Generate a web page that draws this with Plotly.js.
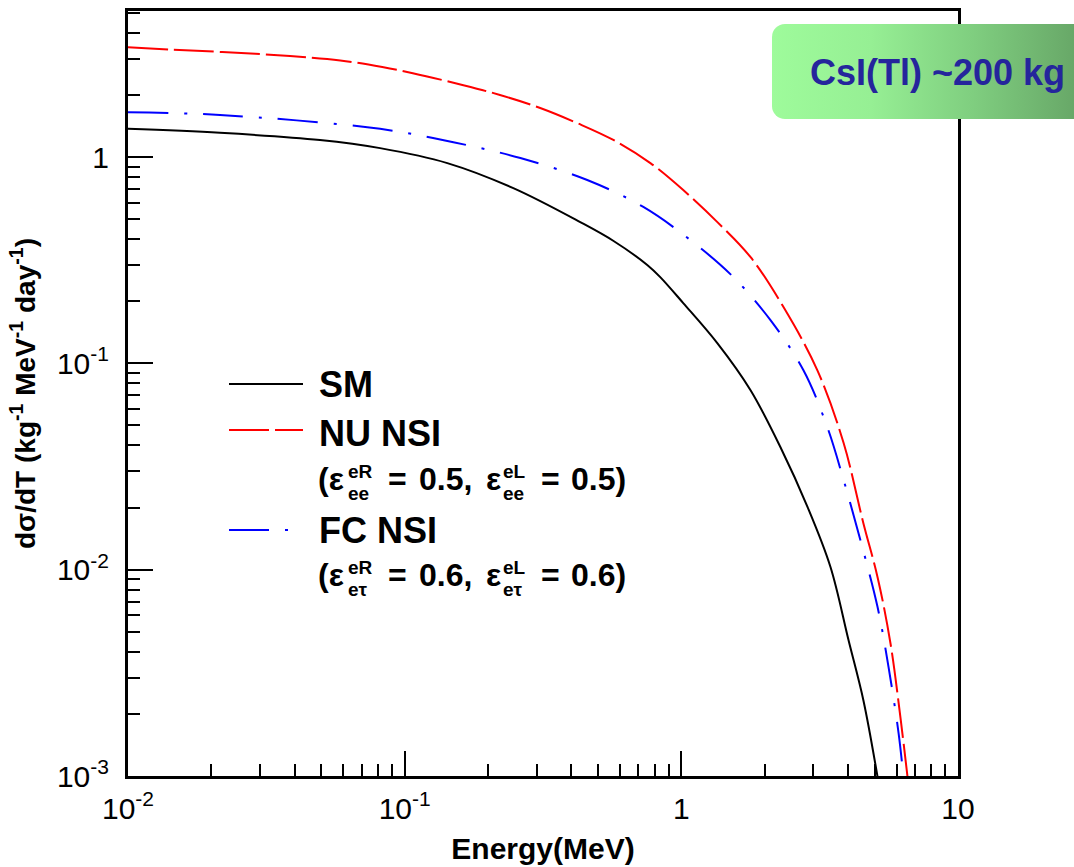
<!DOCTYPE html>
<html>
<head>
<meta charset="utf-8">
<script src="https://cdn.plot.ly/plotly-3.0.1.min.js"></script>
<style>
  html, body { margin: 0; padding: 0; background: #ffffff; }
  #chart { width: 1074px; height: 867px; }
</style>
</head>
<body>
<div id="chart"></div>
<script>
// Differential event rate dσ/dT versus recoil energy T for a CsI(Tl) target.

// Standard Model
const smEnergy = [0.01, 0.0215, 0.0494, 0.0815, 0.1426, 0.247, 0.431, 0.569, 0.753, 0.839, 1.016, 1.349, 1.777, 2.28, 2.86, 3.46, 4.02, 4.55, 5.12];
const smRate   = [1.37, 1.31, 1.21, 1.105, 0.935, 0.707, 0.484, 0.392, 0.300, 0.262, 0.196, 0.1254, 0.0743, 0.0393, 0.0201, 0.0103, 0.00456, 0.00233, 0.00099];

// Non-universal NSI (εeR_ee = 0.5, εeL_ee = 0.5)
const nuEnergy = [0.01, 0.0142, 0.0219, 0.0385, 0.0585, 0.083, 0.107, 0.163, 0.221, 0.309, 0.421, 0.568, 0.773, 1.016, 1.35, 1.78, 2.34, 3.10, 3.86, 4.55, 5.12, 5.70, 6.20, 6.57];
const nuRate   = [3.41, 3.32, 3.23, 3.09, 2.94, 2.73, 2.55, 2.23, 2.0, 1.73, 1.46, 1.21, 0.935, 0.692, 0.484, 0.327, 0.1875, 0.0928, 0.0411, 0.0168, 0.0092, 0.0044, 0.0019, 0.00099];

// Flavour-changing NSI (εeR_eτ = 0.6, εeL_eτ = 0.6)
const fcEnergy = [0.01, 0.0215, 0.0815, 0.150, 0.262, 0.457, 0.729, 1.078, 1.542, 2.10, 2.76, 3.37, 3.86, 4.44, 5.12, 5.61, 6.10, 6.35];
const fcRate   = [1.65, 1.60, 1.37, 1.18, 0.989, 0.774, 0.573, 0.396, 0.262, 0.162, 0.0928, 0.0491, 0.0272, 0.0139, 0.00659, 0.00337, 0.00161, 0.00099];

const seriesNames = ['SM', 'NU NSI', 'FC NSI'];

const xTickVals = [0.01, 0.1, 1, 10];
const xTickText = ['10<sup>-2</sup>', '10<sup>-1</sup>', '1', '10'];
const yTickVals = [0.001, 0.01, 0.1, 1];
const yTickText = ['10<sup>-3</sup>', '10<sup>-2</sup>', '10<sup>-1</sup>', '1'];

// ---- page geometry (pixels) ----
const W = 1074, H = 867;
const M = { l: 128, r: 116, t: 11, b: 91 };
const PW = W - M.l - M.r, PH = H - M.t - M.b;
const px = v => (v - M.l) / PW;          // pixel x -> paper x
const py = v => (H - M.b - v) / PH;      // pixel y -> paper y

const FONT = 'Liberation Sans, Arial, Helvetica, sans-serif';
const NU_DASH = '40px,6px';
const FC_DASH = '40px,16px,3px,16px';

// minor log ticks (2..9 in each decade)
function minorTicks(lo, hi) {
  const out = [];
  for (let e = lo; e < hi; e++) for (let m = 2; m <= 9; m++) out.push(m * Math.pow(10, e));
  return out;
}

const traces = [
  { x: smEnergy, y: smRate, name: seriesNames[0], mode: 'lines',
    line: { color: '#000000', width: 2, shape: 'spline', smoothing: 1 } },
  { x: nuEnergy, y: nuRate, name: seriesNames[1], mode: 'lines',
    line: { color: '#ff0000', width: 2, dash: NU_DASH, shape: 'spline', smoothing: 1 } },
  { x: fcEnergy, y: fcRate, name: seriesNames[2], mode: 'lines',
    line: { color: '#0000ff', width: 2, dash: FC_DASH, shape: 'spline', smoothing: 1 } }
];

// ---- hand-placed legend ----
const shapes = [
  { type: 'line', xref: 'paper', yref: 'paper', x0: px(229), x1: px(303), y0: py(384), y1: py(384),
    line: { color: '#000000', width: 2 } },
  { type: 'line', xref: 'paper', yref: 'paper', x0: px(229), x1: px(303), y0: py(430), y1: py(430),
    line: { color: '#ff0000', width: 2, dash: NU_DASH } },
  { type: 'line', xref: 'paper', yref: 'paper', x0: px(229), x1: px(303), y0: py(530), y1: py(530),
    line: { color: '#0000ff', width: 2, dash: FC_DASH } }
];

function label(text, x, y, size) {
  return { text: text, xref: 'paper', yref: 'paper', x: px(x), y: py(y),
    xanchor: 'left', yanchor: 'middle', showarrow: false, borderpad: 0,
    font: { family: FONT, size: size, weight: 'bold', color: '#000000' } };
}

function couplingRow(y0, flav, val) {
  return [
    label('(ε', 317, y0, 32),
    label('eR', 347, y0 - 8, 19),
    label(flav, 347, y0 + 14, 19),
    label('=', 387, y0, 32),
    label(val + ',', 418, y0, 32),
    label('ε', 485, y0, 32),
    label('eL', 502, y0 - 8, 19),
    label(flav, 502, y0 + 14, 19),
    label('=', 540, y0, 32),
    label(val + ')', 570, y0, 32)
  ];
}

const annotations = [
  label(seriesNames[0], 318, 384, 36),
  label(seriesNames[1], 318, 433, 36),
  ...couplingRow(479, 'ee', '0.5'),
  label(seriesNames[2], 318, 530, 36),
  ...couplingRow(575, 'eτ', '0.6'),
  { text: 'CsI(Tl) ~200 kg', xref: 'paper', yref: 'paper', x: px(809), y: py(72),
    xanchor: 'left', yanchor: 'middle', showarrow: false, borderpad: 0,
    font: { family: FONT, size: 36, weight: 'bold', color: '#25259c' } }
];

// green gradient plate behind the target label
const plateSvg =
  "<svg xmlns='http://www.w3.org/2000/svg' width='330' height='95'>" +
  "<defs><linearGradient id='g' x1='0' y1='0' x2='1' y2='0'>" +
  "<stop offset='0' stop-color='#9efb9b'/>" +
  "<stop offset='0.3' stop-color='#96ef94'/>" +
  "<stop offset='0.6' stop-color='#80cf80'/>" +
  "<stop offset='0.915' stop-color='#68a868'/>" +
  "<stop offset='1' stop-color='#64a264'/>" +
  "</linearGradient></defs>" +
  "<rect x='0' y='0' width='330' height='95' rx='13' ry='13' fill='url(#g)'/></svg>";

const images = [{
  source: 'data:image/svg+xml;charset=utf-8,' + encodeURIComponent(plateSvg),
  xref: 'paper', yref: 'paper', x: px(772), y: py(24),
  sizex: 330 / PW, sizey: 95 / PH, xanchor: 'left', yanchor: 'top',
  sizing: 'stretch', layer: 'above'
}];

const axisCommon = {
  type: 'log',
  showgrid: false, zeroline: false,
  showline: true, linecolor: '#000000', linewidth: 3, mirror: true,
  ticks: 'inside', ticklen: 25, tickwidth: 2, tickcolor: '#000000',
  tickmode: 'array',
  tickfont: { family: FONT, size: 30, color: '#000000' }
};

const layout = {
  width: W, height: H,
  margin: M,
  paper_bgcolor: '#ffffff', plot_bgcolor: '#ffffff',
  showlegend: false,
  xaxis: Object.assign({}, axisCommon, {
    range: [-2, 1],
    tickvals: xTickVals, ticktext: xTickText,
    minor: { ticks: 'inside', ticklen: 12, tickwidth: 2, tickcolor: '#000000',
             tickmode: 'array', tickvals: minorTicks(-2, 1) },
    ticklabelstandoff: 4,
    title: { text: 'Energy(MeV)', standoff: 14,
             font: { family: FONT, size: 30, weight: 'bold', color: '#000000' } }
  }),
  yaxis: Object.assign({}, axisCommon, {
    range: [-3, 0.708],
    tickvals: yTickVals, ticktext: yTickText,
    minor: { ticks: 'inside', ticklen: 12, tickwidth: 2, tickcolor: '#000000',
             tickmode: 'array', tickvals: minorTicks(-3, 1) },
    ticklabelstandoff: 10,
    title: { text: 'dσ/dT (kg<sup>-1</sup> MeV<sup>-1</sup> day<sup>-1</sup>)', standoff: 14,
             font: { family: FONT, size: 28, weight: 'bold', color: '#000000' } }
  }),
  shapes: shapes,
  annotations: annotations,
  images: images
};

Plotly.newPlot('chart', traces, layout, { displayModeBar: false, staticPlot: true });
</script>
</body>
</html>
